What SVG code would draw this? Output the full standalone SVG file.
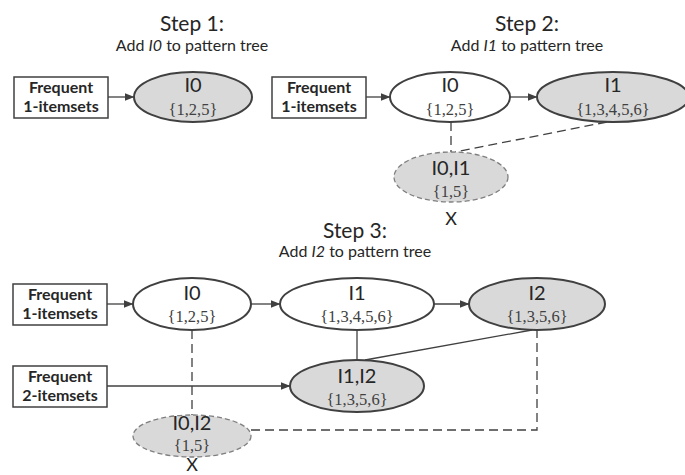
<svg xmlns="http://www.w3.org/2000/svg" width="685" height="475" viewBox="0 0 685 475">
  <defs>
    <marker id="arrow" markerUnits="userSpaceOnUse" markerWidth="10" markerHeight="10" viewBox="0 0 10 10" refX="9.5" refY="5" orient="auto">
      <path d="M0,1 L10,5 L0,9 z" fill="#404040"/>
    </marker>
  </defs>
  <style>
    .title { font-family: Lato, "Liberation Sans", sans-serif; font-size: 21px; fill: #262626; text-anchor: middle; }
    .sub { font-family: Lato, "Liberation Sans", sans-serif; font-size: 16px; fill: #262626; text-anchor: middle; }
    .box rect { fill: #ffffff; stroke: #404040; stroke-width: 1.5; }
    .box text { font-family: Lato, "Liberation Sans", sans-serif; font-size: 16px; font-weight: bold; fill: #262626; text-anchor: middle; }
    .node ellipse { stroke: #404040; stroke-width: 2; }
    .open ellipse { fill: #ffffff; }
    .hit ellipse { fill: #d9d9d9; }
    .pruned ellipse { fill: #d9d9d9; stroke: #7f7f7f; stroke-width: 1.3; stroke-dasharray: 5 3; }
    .node .name { font-family: Lato, "Liberation Sans", sans-serif; font-size: 20px; fill: #262626; text-anchor: middle; }
    .node .set { font-family: "Liberation Serif", serif; font-size: 16.5px; fill: #404040; text-anchor: middle; }
    .mark { font-family: Lato, "Liberation Sans", sans-serif; font-size: 18px; fill: #262626; text-anchor: middle; }
    .edge { fill: none; stroke: #404040; stroke-width: 1.3; }
    .arrow { marker-end: url(#arrow); }
    .dash { stroke-dasharray: 9 5; }
  </style>

  <!-- Step headings -->
  <text class="title" x="192" y="31">Step 1:</text>
  <text class="sub" x="192" y="51">Add <tspan font-style="italic">I0</tspan> to pattern tree</text>
  <text class="title" x="527" y="31">Step 2:</text>
  <text class="sub" x="527" y="51">Add <tspan font-style="italic">I1</tspan> to pattern tree</text>
  <text class="title" x="355" y="238">Step 3:</text>
  <text class="sub" x="355" y="257">Add <tspan font-style="italic">I2</tspan> to pattern tree</text>

  <!-- Connectors -->
  <g id="connectors">
    <!-- step 1 -->
    <line class="edge arrow" x1="108" y1="97" x2="134" y2="97"/>
    <!-- step 2 -->
    <line class="edge arrow" x1="366" y1="97" x2="390" y2="97"/>
    <line class="edge arrow" x1="510" y1="97" x2="537" y2="97"/>
    <line class="edge dash" x1="451" y1="122" x2="451" y2="152"/>
    <line class="edge dash" x1="607" y1="122" x2="455" y2="152"/>
    <!-- step 3 -->
    <line class="edge arrow" x1="107" y1="304" x2="133" y2="304"/>
    <line class="edge arrow" x1="251" y1="304" x2="280" y2="304"/>
    <line class="edge arrow" x1="434" y1="304" x2="469" y2="304"/>
    <line class="edge arrow" x1="107" y1="386" x2="290" y2="386"/>
    <line class="edge" x1="357" y1="330" x2="357" y2="360"/>
    <line class="edge" x1="532" y1="330" x2="365" y2="360"/>
    <line class="edge dash" x1="192" y1="330" x2="192" y2="416"/>
    <polyline class="edge dash" points="251,430 537,430 537,330"/>
  </g>

  <!-- Step 1 nodes -->
  <g id="s1-freq1" class="box">
    <rect x="14" y="77" width="94" height="41"/>
    <text x="61" y="93">Frequent</text>
    <text x="61" y="112">1-itemsets</text>
  </g>
  <g id="s1-i0" class="node hit">
    <ellipse cx="193" cy="97" rx="59" ry="25"/>
    <text class="name" x="193" y="92">I0</text>
    <text class="set" x="193" y="115">{1,2,5}</text>
  </g>

  <!-- Step 2 nodes -->
  <g id="s2-freq1" class="box">
    <rect x="272" y="77" width="94" height="41"/>
    <text x="319" y="93">Frequent</text>
    <text x="319" y="112">1-itemsets</text>
  </g>
  <g id="s2-i0" class="node open">
    <ellipse cx="450" cy="97" rx="60" ry="25"/>
    <text class="name" x="450" y="92">I0</text>
    <text class="set" x="450" y="115">{1,2,5}</text>
  </g>
  <g id="s2-i1" class="node hit">
    <ellipse cx="613" cy="97" rx="76" ry="25"/>
    <text class="name" x="613" y="92">I1</text>
    <text class="set" x="613" y="115">{1,3,4,5,6}</text>
  </g>
  <g id="s2-i0i1" class="node pruned">
    <ellipse cx="451" cy="177" rx="57" ry="25"/>
    <text class="name" x="451" y="175">I0,I1</text>
    <text class="set" x="451" y="197">{1,5}</text>
  </g>
  <text class="mark" x="451" y="225">X</text>

  <!-- Step 3 nodes -->
  <g id="s3-freq1" class="box">
    <rect x="13" y="284" width="94" height="41"/>
    <text x="60" y="300">Frequent</text>
    <text x="60" y="319">1-itemsets</text>
  </g>
  <g id="s3-freq2" class="box">
    <rect x="13" y="366" width="94" height="41"/>
    <text x="60" y="382">Frequent</text>
    <text x="60" y="401">2-itemsets</text>
  </g>
  <g id="s3-i0" class="node open">
    <ellipse cx="192" cy="304" rx="59" ry="26"/>
    <text class="name" x="192" y="300">I0</text>
    <text class="set" x="192" y="322">{1,2,5}</text>
  </g>
  <g id="s3-i1" class="node open">
    <ellipse cx="357" cy="304" rx="77" ry="26"/>
    <text class="name" x="357" y="300">I1</text>
    <text class="set" x="357" y="322">{1,3,4,5,6}</text>
  </g>
  <g id="s3-i2" class="node hit">
    <ellipse cx="537" cy="304" rx="68" ry="26"/>
    <text class="name" x="537" y="300">I2</text>
    <text class="set" x="537" y="322">{1,3,5,6}</text>
  </g>
  <g id="s3-i1i2" class="node hit">
    <ellipse cx="357" cy="386" rx="67" ry="26"/>
    <text class="name" x="357" y="383">I1,I2</text>
    <text class="set" x="357" y="405">{1,3,5,6}</text>
  </g>
  <g id="s3-i0i2" class="node pruned">
    <ellipse cx="192" cy="436" rx="59" ry="21"/>
    <text class="name" x="192" y="430">I0,I2</text>
    <text class="set" x="192" y="451">{1,5}</text>
  </g>
  <text class="mark" x="192" y="471">X</text>
</svg>
